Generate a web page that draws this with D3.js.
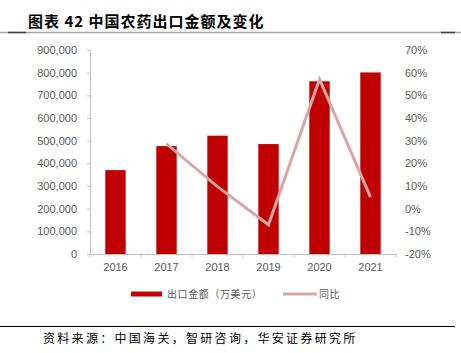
<!DOCTYPE html>
<html>
<head>
<meta charset="utf-8">
<script src="https://cdn.jsdelivr.net/npm/d3@7"></script>
<style>
  body { margin: 0; background: #fff; }
  svg { display: block; font-family: "Liberation Sans", Arial, sans-serif; }
  .cjk { font-family: "Noto Sans CJK SC", sans-serif; }
</style>
</head>
<body>
<div id="chart"></div>
<script>
const years = ["2016", "2017", "2018", "2019", "2020", "2021"];
const exportValue = [370000, 476000, 522000, 485000, 762000, 801000];
const yoy = [null, 28.6, 9.7, -7.1, 57.1, 5.1];
const leftTicks = [0, 100000, 200000, 300000, 400000, 500000, 600000, 700000, 800000, 900000];
const rightTicks = [-20, -10, 0, 10, 20, 30, 40, 50, 60, 70];

const width = 461, height = 353;
const plot = { left: 90, right: 396, top: 50, bottom: 254 };

const svg = d3.select("#chart").append("svg")
    .attr("width", width)
    .attr("height", height);

// Title
svg.append("text")
    .attr("class", "cjk")
    .attr("x", 28)
    .attr("y", 27)
    .style("font-size", "15px")
    .style("font-weight", "bold")
    .style("letter-spacing", "1px")
    .style("fill", "#000")
    .text("图表 42 中国农药出口金额及变化");

// Title rule
svg.append("line")
    .attr("x1", 0).attr("x2", width)
    .attr("y1", 32.5).attr("y2", 32.5)
    .attr("stroke", "#a6a6a6")
    .attr("stroke-width", 1.5);
svg.append("line")
    .attr("x1", 8).attr("x2", 26)
    .attr("y1", 32.5).attr("y2", 32.5)
    .attr("stroke", "#404040")
    .attr("stroke-width", 1.5);
svg.append("line")
    .attr("x1", 441).attr("x2", 455)
    .attr("y1", 32.5).attr("y2", 32.5)
    .attr("stroke", "#404040")
    .attr("stroke-width", 1.5);

// Scales
const x = d3.scaleBand()
    .domain(years)
    .range([plot.left, plot.right])
    .paddingInner(0.6)
    .paddingOuter(0.3);

const xBand = d3.scaleBand()
    .domain(years)
    .range([plot.left, plot.right]);

const yLeft = d3.scaleLinear()
    .domain([0, 900000])
    .range([plot.bottom, plot.top]);

const yRight = d3.scaleLinear()
    .domain([-20, 70])
    .range([plot.bottom, plot.top]);

// Left axis
const leftAxis = svg.append("g")
    .attr("transform", `translate(${plot.left},0)`)
    .call(d3.axisLeft(yLeft)
        .tickValues(leftTicks)
        .tickFormat(d3.format(","))
        .tickSize(3)
        .tickPadding(10));
leftAxis.select(".domain").attr("stroke", "#bfbfbf");
leftAxis.selectAll(".tick line").attr("stroke", "#bfbfbf");
leftAxis.selectAll("text")
    .style("font-size", "11px")
    .style("fill", "#595959");

// Right axis (labels only)
const rightAxis = svg.append("g")
    .attr("transform", `translate(${plot.right},0)`)
    .call(d3.axisRight(yRight)
        .tickValues(rightTicks)
        .tickFormat(d => d + "%")
        .tickSize(0)
        .tickPadding(9));
rightAxis.select(".domain").remove();
rightAxis.selectAll("text")
    .style("font-size", "11px")
    .style("fill", "#595959");

// Bars
svg.append("g")
    .selectAll("rect")
    .data(years)
    .join("rect")
    .attr("x", d => x(d))
    .attr("width", x.bandwidth())
    .attr("y", (d, i) => yLeft(exportValue[i]))
    .attr("height", (d, i) => plot.bottom - yLeft(exportValue[i]))
    .attr("fill", "#c00000");

// Bottom axis
const bottomAxis = svg.append("g")
    .attr("transform", `translate(0,${plot.bottom})`)
    .call(d3.axisBottom(xBand).tickSize(0).tickPadding(9));
bottomAxis.select(".domain").attr("stroke", "#bfbfbf");
bottomAxis.selectAll("text")
    .style("font-size", "11px")
    .style("fill", "#595959");
// tick marks at category boundaries
svg.append("g")
    .selectAll("line")
    .data(years.concat(["end"]))
    .join("line")
    .attr("x1", (d, i) => i < years.length ? xBand(d) : plot.right)
    .attr("x2", (d, i) => i < years.length ? xBand(d) : plot.right)
    .attr("y1", plot.bottom)
    .attr("y2", plot.bottom + 3)
    .attr("stroke", "#bfbfbf");

// YoY line
const lineData = years.map((d, i) => ({ year: d, v: yoy[i] })).filter(d => d.v !== null);
const line = d3.line()
    .x(d => xBand(d.year) + xBand.bandwidth() / 2)
    .y(d => yRight(d.v));
svg.append("path")
    .datum(lineData)
    .attr("d", line)
    .attr("fill", "none")
    .attr("stroke", "#d9a5a5")
    .attr("stroke-width", 3);

// Legend
const legend = svg.append("g").attr("class", "cjk");
legend.append("rect")
    .attr("x", 131).attr("y", 291.5)
    .attr("width", 31).attr("height", 5)
    .attr("fill", "#c00000");
legend.append("text")
    .attr("x", 167).attr("y", 298)
    .style("font-size", "10px")
    .style("letter-spacing", "0.6px")
    .style("fill", "#595959")
    .text("出口金额（万美元）");
legend.append("line")
    .attr("x1", 283).attr("x2", 317)
    .attr("y1", 294).attr("y2", 294)
    .attr("stroke", "#d9a5a5")
    .attr("stroke-width", 3);
legend.append("text")
    .attr("x", 319).attr("y", 298)
    .style("font-size", "10px")
    .style("letter-spacing", "0.6px")
    .style("fill", "#595959")
    .text("同比");

// Footer
svg.append("line")
    .attr("x1", 0).attr("x2", 455)
    .attr("y1", 326.5).attr("y2", 326.5)
    .attr("stroke", "#000")
    .attr("stroke-width", 1);
svg.append("text")
    .attr("class", "cjk")
    .attr("x", 43)
    .attr("y", 343)
    .style("font-size", "12px")
    .style("letter-spacing", "2.3px")
    .style("fill", "#000")
    .text("资料来源：中国海关，智研咨询，华安证券研究所");
</script>
</body>
</html>
